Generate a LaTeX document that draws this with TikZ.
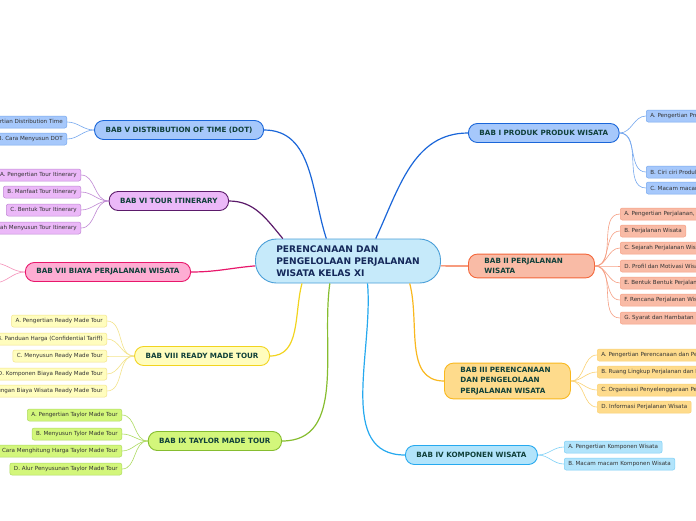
\documentclass[tikz,border=0pt]{standalone}
\usepackage{fontspec}
\setmainfont{DejaVu Sans}
\definecolor{rootfill}{HTML}{C6EAFA}
\definecolor{rootline}{HTML}{4A9FD8}
\definecolor{rootink}{HTML}{14285A}
\definecolor{topicink}{HTML}{10403A}
\definecolor{blufill}{HTML}{A6C8FB}
\definecolor{bluline}{HTML}{1A66D9}
\definecolor{blusub}{HTML}{76A8EF}
\definecolor{salfill}{HTML}{F9BBA6}
\definecolor{salline}{HTML}{F4663A}
\definecolor{salsub}{HTML}{F6A085}
\definecolor{orafill}{HTML}{FEDB8C}
\definecolor{oraline}{HTML}{F9B81E}
\definecolor{orasub}{HTML}{FBD274}
\definecolor{cyafill}{HTML}{B2E4FB}
\definecolor{cyaline}{HTML}{26A9EF}
\definecolor{cyasub}{HTML}{7DD0F7}
\definecolor{purfill}{HTML}{EBB8F8}
\definecolor{purline}{HTML}{5B1A6A}
\definecolor{pursub}{HTML}{C089D4}
\definecolor{pinfill}{HTML}{FEADD3}
\definecolor{pinline}{HTML}{E8176B}
\definecolor{pinsub}{HTML}{F590B9}
\definecolor{yelfill}{HTML}{FFFDBE}
\definecolor{yelline}{HTML}{F2D41F}
\definecolor{yelsub}{HTML}{F3E48A}
\definecolor{limfill}{HTML}{D3F67B}
\definecolor{limline}{HTML}{86BD2F}
\definecolor{limsub}{HTML}{AEDB62}
\begin{document}
\begin{tikzpicture}[x=1pt,y=1pt,
  every node/.style={font=\fontsize{5.6}{6.5}\selectfont,text=black!80},
  topic/.style={draw,line width=0.9pt,rounded corners=9pt,minimum height=19pt,inner xsep=11pt,inner ysep=4pt,
    font=\bfseries\fontsize{7.2}{10.5}\selectfont,text=topicink,align=left},
  sub/.style={draw,line width=0.5pt,rounded corners=2pt,minimum height=12pt,inner xsep=4pt,inner ysep=1pt},
  link/.style={line width=1.2pt},
  twig/.style={line width=0.6pt}]
\useasboundingbox[fill=white] (0,0) rectangle (696,-520);

% central topic
\node[draw=rootline,fill=rootfill,line width=0.9pt,rounded corners=21pt,minimum width=185pt,minimum height=44pt,
  align=left,font=\bfseries\fontsize{9.1}{11.8}\selectfont,text=rootink] (root) at (348,-261)
  {PERENCANAAN DAN\\PENGELOLAAN PERJALANAN\\WISATA KELAS XI};

% main topics
\node[topic,fill=blufill,draw=bluline,anchor=west] (bab1) at (468,-133) {BAB I PRODUK PRODUK WISATA};
\node[topic,fill=salfill,draw=salline,anchor=west,inner xsep=16pt,text width=94pt] (bab2) at (468,-266) {BAB II PERJALANAN\\WISATA};
\node[topic,fill=orafill,draw=oraline,anchor=west,inner xsep=16pt,text width=94pt] (bab3) at (444,-381) {BAB III PERENCANAAN\\DAN PENGELOLAAN\\PERJALANAN WISATA};
\node[topic,fill=cyafill,draw=cyaline,anchor=west] (bab4) at (405,-455) {BAB IV KOMPONEN WISATA};
\node[topic,fill=blufill,draw=bluline,anchor=east] (bab5) at (264,-130) {BAB V DISTRIBUTION OF TIME (DOT)};
\node[topic,fill=purfill,draw=purline,anchor=east] (bab6) at (229,-201) {BAB VI TOUR ITINERARY};
\node[topic,fill=pinfill,draw=pinline,anchor=east] (bab7) at (191,-272) {BAB VII BIAYA PERJALANAN WISATA};
\node[topic,fill=yelfill,draw=yelline,anchor=east] (bab8) at (270,-356) {BAB VIII READY MADE TOUR};
\node[topic,fill=limfill,draw=limline,anchor=east] (bab9) at (282,-441) {BAB IX TAYLOR MADE TOUR};

% links from the centre
\draw[link,bluline] (root.39) to[out=65,in=180] (bab1.west);
\draw[link,salline] (root.-3) -- (bab2.west);
\draw[link,oraline] (root.340) to[out=-75,in=180] (bab3.west);
\draw[link,cyaline] (root.311) to[out=-85,in=180] (bab4.west);
\draw[link,bluline] (root.134) to[out=108,in=0] (bab5.east);
\draw[link,purline] (root.161) to[out=130,in=0] (bab6.east);
\draw[link,pinline] (root.183) to[out=185,in=0] (bab7.east);
\draw[link,yelline] (root.206) to[out=-105,in=0] (bab8.east);
\draw[link,limline] (root.231) to[out=-98,in=0] (bab9.east);

% subtopics, right side
\foreach \y/\t [count=\i] in {116/A. Pengertian Produk Wisata,172/B. Ciri ciri Produk Wisata,188/C. Macam macam Produk Wisata}{
  \node[sub,fill=blufill,draw=blusub,anchor=west] (bab1s\i) at (646,-\y) {\t};
  \draw[twig,blusub] (bab1.east) to[out=0,in=180] (bab1s\i.west);
}
\foreach \y/\t [count=\i] in {214/{A. Pengertian Perjalanan, Pariwisata},231/B. Perjalanan Wisata,248/C. Sejarah Perjalanan Wisata,
  266/D. Profil dan Motivasi Wisatawan,283/E. Bentuk Bentuk Perjalanan Wisata,300/F. Rencana Perjalanan Wisata,318/G. Syarat dan Hambatan Perjalanan}{
  \node[sub,fill=salfill,draw=salsub,anchor=west] (bab2s\i) at (620,-\y) {\t};
  \draw[twig,salsub] (bab2.east) to[out=0,in=180] (bab2s\i.west);
}
\foreach \y/\t [count=\i] in {355/A. Pengertian Perencanaan dan Pengelolaan,372/B. Ruang Lingkup Perjalanan dan Pengelolaan,
  390/C. Organisasi Penyelenggaraan Perjalanan,407/D. Informasi Perjalanan Wisata}{
  \node[sub,fill=orafill,draw=orasub,anchor=west] (bab3s\i) at (597,-\y) {\t};
  \draw[twig,orasub] (bab3.east) to[out=0,in=180] (bab3s\i.west);
}
\foreach \y/\t [count=\i] in {447/A. Pengertian Komponen Wisata,464/B. Macam macam Komponen Wisata}{
  \node[sub,fill=cyafill,draw=cyasub,anchor=west] (bab4s\i) at (564,-\y) {\t};
  \draw[twig,cyasub] (bab4.east) to[out=0,in=180] (bab4s\i.west);
}

% subtopics, left side
\foreach \y/\t [count=\i] in {122/A. Pengertian Distribution Time,139/B. Cara Menyusun DOT}{
  \node[sub,fill=blufill,draw=blusub,anchor=east] (bab5s\i) at (67,-\y) {\t};
  \draw[twig,blusub] (bab5.west) to[out=180,in=0] (bab5s\i.east);
}
\foreach \y/\t [count=\i] in {175/A. Pengertian Tour Itinerary,192/B. Manfaat Tour Itinerary,210/C. Bentuk Tour Itinerary,
  228/D. Langkah Menyusun Tour Itinerary}{
  \node[sub,fill=purfill,draw=pursub,anchor=east] (bab6s\i) at (81,-\y) {\t};
  \draw[twig,pursub] (bab6.west) to[out=180,in=0] (bab6s\i.east);
}
\coordinate (bab7s1) at (-6,-263);
\coordinate (bab7s2) at (-6,-283);
\foreach \i in {1,2}{
  \draw[twig,pinsub] (bab7.west) to[out=180,in=0] (bab7s\i);
}
\foreach \y/\t [count=\i] in {321/A. Pengertian Ready Made Tour,339/B. Panduan Harga (Confidential Tariff),356/C. Menyusun Ready Made Tour,
  374/D. Komponen Biaya Ready Made Tour,391/E. Perhitungan Biaya Wisata Ready Made Tour}{
  \node[sub,fill=yelfill,draw=yelsub,anchor=east] (bab8s\i) at (107,-\y) {\t};
  \draw[twig,yelsub] (bab8.west) to[out=180,in=0] (bab8s\i.east);
}
\foreach \y/\t [count=\i] in {415/A. Pengertian Taylor Made Tour,434/B. Menyusun Tylor Made Tour,451/C. Cara Menghitung Harga Taylor Made Tour,
  469/D. Alur Penyusunan Taylor Made Tour}{
  \node[sub,fill=limfill,draw=limsub,anchor=east] (bab9s\i) at (122,-\y) {\t};
  \draw[twig,limsub] (bab9.west) to[out=180,in=0] (bab9s\i.east);
}
\end{tikzpicture}
\end{document}
